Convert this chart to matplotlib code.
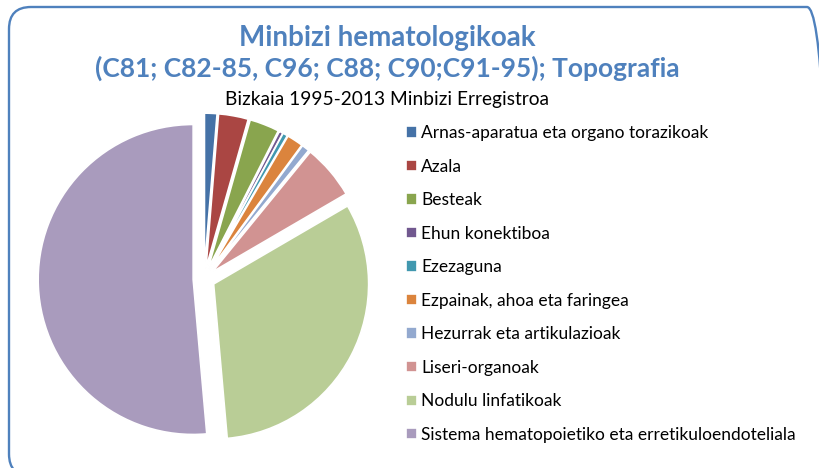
import matplotlib
matplotlib.use("Agg")
import matplotlib.pyplot as plt
from matplotlib.patches import FancyBboxPatch

W, H = 820, 468

labels = [
    "Arnas-aparatua eta organo torazikoak",
    "Azala",
    "Besteak",
    "Ehun konektiboa",
    "Ezezaguna",
    "Ezpainak, ahoa eta faringea",
    "Hezurrak eta artikulazioak",
    "Liseri-organoak",
    "Nodulu linfatikoak",
    "Sistema hematopoietiko eta erretikuloendoteliala",
]
shares = [1.3, 3.1, 3.1, 0.4, 0.5, 1.7, 0.8, 5.7, 32.0, 51.4]
colors = ["#4572A7", "#AA4643", "#89A54E", "#71588F", "#4198AF",
          "#DB843D", "#93A9CF", "#D19392", "#B9CD96", "#A99BBD"]

plt.rcParams['font.family'] = ['Lato', 'DejaVu Sans']

fig = plt.figure(figsize=(W / 100, H / 100), dpi=100)

# rounded chart border (runs past the right and bottom edges), in inches
frame = FancyBboxPatch((0.09, -0.08), 8.20, 4.69,
                       boxstyle="round,pad=0,rounding_size=0.22",
                       transform=fig.dpi_scale_trans, facecolor="none",
                       edgecolor="#4F81BD", linewidth=1.7)
fig.patches.append(frame)

# pie: centre at (204, 279) px, radius 155 px
R = 155
half = 1.1 * R
ax = fig.add_axes([(204 - half) / W, (H - 279 - half) / H, 2 * half / W, 2 * half / H])
ax.pie(shares, colors=colors, startangle=90, counterclock=False,
       explode=[0.07] * len(shares), radius=1,
       wedgeprops=dict(edgecolor="white", linewidth=1.2))
ax.set_xlim(-1.1, 1.1)
ax.set_ylim(-1.1, 1.1)
ax.set_aspect("equal")
ax.axis("off")

title_color = "#4F81BD"
fig.text(387 / W, 1 - 38 / H, "Minbizi hematologikoak", ha="center", va="center",
         fontsize=20, fontweight="bold", color=title_color)
fig.text(387 / W, 1 - 68 / H, "(C81; C82-85, C96; C88; C90;C91-95); Topografia",
         ha="center", va="center", fontsize=19, fontweight="bold", color=title_color)
fig.text(387 / W, 1 - 100 / H, "Bizkaia 1995-2013 Minbizi Erregistroa",
         ha="center", va="center", fontsize=13.8, color="black")

handles = ax.patches
fig.legend(handles, labels, loc="upper left",
           bbox_to_anchor=(406 / W, 1 - 125 / H), frameon=False,
           fontsize=12.5, handlelength=0.62, handleheight=0.62,
           handletextpad=0.25, labelspacing=1.01, borderpad=0,
           borderaxespad=0)

fig.savefig("out.png", dpi=100)
